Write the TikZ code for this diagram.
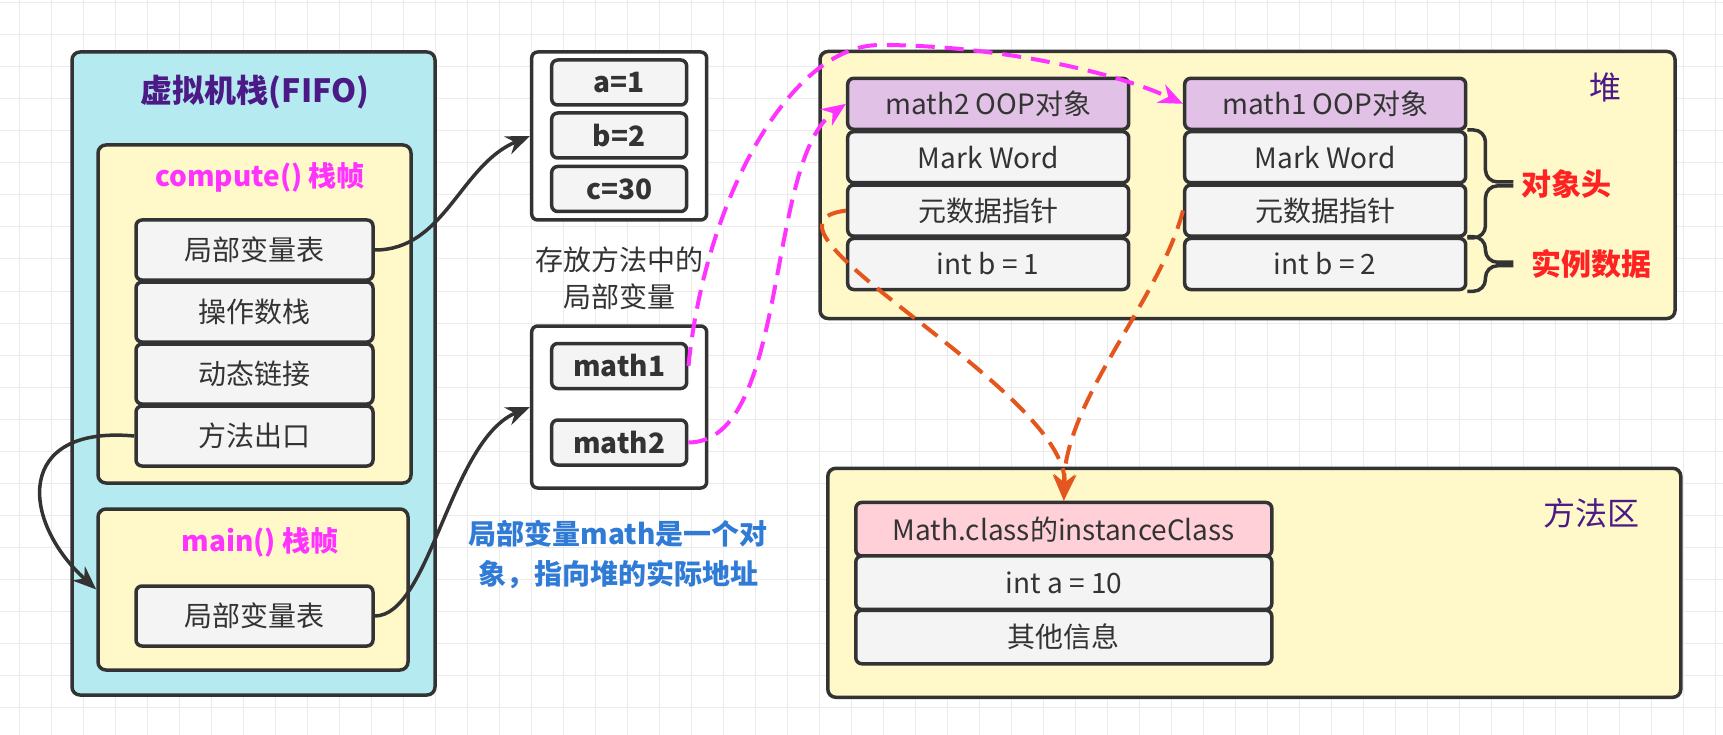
\documentclass[tikz,border=0pt]{standalone}
\usepackage{fontspec}
\setmainfont{Noto Sans CJK SC}
\usetikzlibrary{arrows.meta, positioning}

\definecolor{ink}{HTML}{333333}
\definecolor{gridgray}{HTML}{EBEBEB}
\definecolor{stackcyan}{HTML}{B5EBF0}
\definecolor{frameyellow}{HTML}{FFF8C9}
\definecolor{cellgray}{HTML}{F4F4F4}
\definecolor{oophead}{HTML}{E1C2E6}
\definecolor{classhead}{HTML}{FFD0D8}
\definecolor{titlepurple}{HTML}{4C1A87}
\definecolor{framemagenta}{HTML}{FF33FF}
\definecolor{notered}{HTML}{FF2222}
\definecolor{noteblue}{HTML}{2F7BD6}
\definecolor{refmagenta}{HTML}{FF33FF}
\definecolor{klassorange}{HTML}{E5561E}

\newcommand{\cellfont}{\fontsize{28}{34}\selectfont}
\newcommand{\titlefont}{\fontsize{32}{38}\selectfont}
\newcommand{\bracefont}{\fontsize{30}{36}\selectfont}

\tikzset{
  gridline/.style   = {draw=gridgray, line width=1pt},
  area/.style       = {draw=ink, line width=3.5pt, rounded corners=8pt, inner sep=0pt},
  areatitle/.style  = {text=titlepurple, font=\titlefont\bfseries, inner sep=0pt},
  zonetitle/.style  = {text=titlepurple, font=\titlefont, inner sep=0pt},
  frametitle/.style = {text=framemagenta, font=\cellfont\bfseries, inner sep=0pt},
  cell/.style       = {draw=ink, fill=cellgray, line width=3.5pt, rounded corners=6pt,
                       inner sep=0pt, text=ink, font=\cellfont},
  stackcell/.style  = {cell, minimum width=237pt, minimum height=60pt},
  varcell/.style    = {cell, minimum width=135pt, minimum height=45pt, font=\cellfont\bfseries},
  objcell/.style    = {cell, minimum width=281pt, minimum height=51pt},
  classcell/.style  = {cell, minimum width=416pt, minimum height=53.5pt},
  note/.style       = {align=center, inner sep=0pt, text=ink, font=\fontsize{28}{37}\selectfont},
  bracelabel/.style = {text=notered, font=\bracefont\bfseries, inner sep=0pt},
  bracket/.style    = {draw=ink, line width=3.5pt, rounded corners=12pt},
  arr/.style        = {-{Stealth[length=24pt,width=19pt]}, line width=3.5pt, draw=ink},
  refarr/.style     = {-{Stealth[length=24pt,width=20pt]}, line width=4pt,
                       draw=refmagenta, dash pattern=on 19pt off 10pt},
  klassarr/.style   = {-{Stealth[length=26pt,width=22pt]}, line width=4pt,
                       draw=klassorange, dash pattern=on 19pt off 10pt},
}

\begin{document}
\begin{tikzpicture}[x=1pt, y=-1pt]
  % canvas with grid
  \useasboundingbox (0,0) rectangle (1723,735);
  \fill[white] (0,0) rectangle (1723,735);
  \foreach \gx in {19,51,...,1715}
    \draw[gridline] (\gx,0) -- (\gx,735);
  \foreach \gy in {3,35,...,733}
    \draw[gridline] (0,\gy) -- (1723,\gy);

  % VM stack
  \node[area, fill=stackcyan, minimum width=363pt, minimum height=643pt]
        (stack) at (253.5,373.5) {};
  \node[areatitle] (stacktitle) at (255,92) {虚拟机栈(FIFO)};

  % compute() frame
  \node[area, fill=frameyellow, minimum width=313pt, minimum height=338pt]
        (computefr) at (254.5,314) {};
  \node[frametitle] (computelbl) at (260,177) {compute() 栈帧};
  \node[stackcell] (lvt1)    at (254.5,250) {局部变量表};
  \node[stackcell] (opstack) at (254.5,312) {操作数栈};
  \node[stackcell] (dynlink) at (254.5,374) {动态链接};
  \node[stackcell] (retaddr) at (254.5,436) {方法出口};

  % main() frame
  \node[area, fill=frameyellow, minimum width=310pt, minimum height=161pt]
        (mainfr) at (253,589.5) {};
  \node[frametitle] (mainlbl) at (260,542) {main() 栈帧};
  \node[stackcell] (lvt2) at (254.5,616) {局部变量表};

  % local variables
  \node[area, rounded corners=6pt, fill=white, minimum width=175pt, minimum height=168pt]
        (abc) at (619.2,136) {};
  \node[varcell] (vara) at (619.2,82.5)  {a=1};
  \node[varcell] (varb) at (619.2,135.5) {b=2};
  \node[varcell] (varc) at (619.2,189)   {c=30};
  \node[note] (abcnote) at (619,278) {存放方法中的\\局部变量};

  \node[area, rounded corners=6pt, fill=white, minimum width=175pt, minimum height=162pt]
        (mathbox) at (619.2,407) {};
  \node[varcell] (math1) at (619.2,366)   {math1};
  \node[varcell] (math2) at (619.2,442.5) {math2};
  \node[note, text=noteblue, font=\fontsize{28}{40}\selectfont\bfseries]
        (mathnote) at (618,555) {局部变量math是一个对\\象，指向堆的实际地址};

  % heap
  \node[area, fill=frameyellow, minimum width=855pt, minimum height=267pt]
        (heap) at (1247.5,185) {};
  \node[zonetitle] (heaplbl) at (1605,87) {堆};

  \node[objcell, fill=oophead] (m2hd) at (988.2,103.8) {math2 OOP对象};
  \node[objcell] (m2mark)  at (988.2,157.2) {Mark Word};
  \node[objcell] (m2meta)  at (988.2,210.6) {元数据指针};
  \node[objcell] (m2field) at (988.2,264)   {int b = 1};

  \node[objcell, fill=oophead] (m1hd) at (1325.2,103.8) {math1 OOP对象};
  \node[objcell] (m1mark)  at (1325.2,157.2) {Mark Word};
  \node[objcell] (m1meta)  at (1325.2,210.6) {元数据指针};
  \node[objcell] (m1field) at (1325.2,264)   {int b = 2};

  % braces
  \draw[bracket] (m1mark.north east) -- ++(18,0) -- ++(0,52) -- ++(28,0);
  \draw[bracket] (m1meta.south east) -- ++(18,0) -- ++(0,-52) -- ++(28,0);
  \draw[bracket] (m1field.north east) -- ++(18,0) -- ++(0,25.5) -- ++(28,0);
  \draw[bracket] (m1field.south east) -- ++(18,0) -- ++(0,-25.5) -- ++(28,0);
  \node[bracelabel] (headlbl) at (1566,184) {对象头};
  \node[bracelabel] (datalbl) at (1591,264) {实例数据};

  % method area
  \node[area, fill=frameyellow, minimum width=853pt, minimum height=229pt]
        (methodarea) at (1254.3,582.8) {};
  \node[zonetitle] (methodlbl) at (1591,513) {方法区};
  \node[classcell, fill=classhead] (klass) at (1063.8,529.2) {Math.class的instanceClass};
  \node[classcell] (klassfield) at (1063.8,582.7) {int a = 10};
  \node[classcell] (klassother) at (1063.8,637)   {其他信息};

  % stack links
  \draw[arr] (lvt1.east) .. controls (445,250) and (460,165) .. (abc.west);
  \draw[arr] (lvt2.east) .. controls (430,616) and (450,440) .. (mathbox.west);
  \draw[arr] (retaddr.west) .. controls (15,425) and (20,520) .. (mainfr.west);

  % references into the heap
  \coordinate (m1top) at (880,45);
  \draw[refarr] (math1.east) .. controls (705,200) and (790,45) .. (m1top)
                .. controls (990,45) and (1110,70) .. (m1hd.west);
  \draw[refarr] (math2.east) .. controls (790,442) and (765,160) .. (m2hd.west);

  % class pointers
  \draw[klassarr] (m2meta.west) .. controls (730,225) and (1070,390) .. (klass.north);
  \draw[klassarr] (m1meta.west) .. controls (1160,300) and (1064,400) .. (klass.north);
\end{tikzpicture}
\end{document}
